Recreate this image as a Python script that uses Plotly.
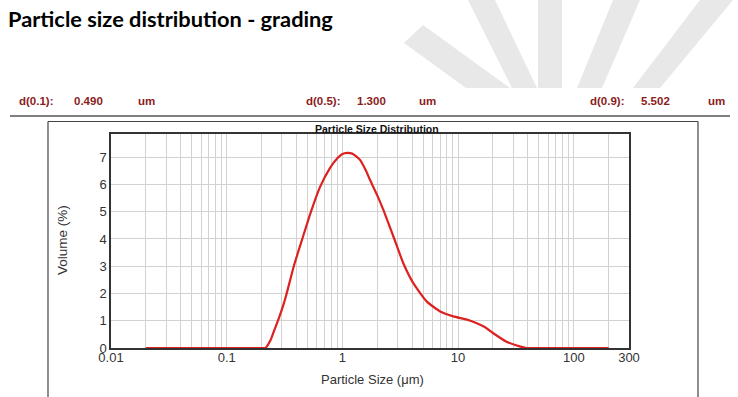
import plotly.graph_objects as go

# ---------------- data ----------------
sizes_um = [0.02, 0.05, 0.1, 0.15, 0.2, 0.216, 0.24, 0.255, 0.28, 0.31, 0.33, 0.38, 0.45,
            0.53, 0.64, 0.78, 0.9, 1.0, 1.1, 1.2, 1.3, 1.42, 1.6, 1.73, 2.0, 2.26, 2.76,
            3.36, 4.1, 5.35, 7.0, 9.1, 11.9, 14.5, 17.0, 20.0, 26.0, 34.0, 39.0, 60.0,
            100.0, 200.0]
volume_pct = [0, 0, 0, 0, 0, 0, 0.3, 0.6, 1.05, 1.6, 2.0, 3.0, 4.0,
              4.95, 5.9, 6.6, 6.95, 7.12, 7.16, 7.14, 7.05, 6.9, 6.5, 6.17, 5.6, 5.07, 4.09,
              3.11, 2.38, 1.71, 1.34, 1.16, 1.04, 0.91, 0.77, 0.55, 0.24, 0.06, 0, 0,
              0, 0]

x_tick_vals = [0.01, 0.1, 1, 10, 100, 300]
x_tick_text = ["0.01", "0.1", "1", "10", "100", "300"]
x_minor_grid = [m * d for d in [0.01, 0.1, 1, 10] for m in range(2, 10)] + [200]
y_tick_vals = [0, 1, 2, 3, 4, 5, 6, 7]

d_labels = ["d(0.1):", "d(0.5):", "d(0.9):"]
d_values = ["0.490", "1.300", "5.502"]
d_unit = "um"

# ---------------- geometry ----------------
W, H = 738, 397
ML, MR, MT, MB = 111, 109, 134, 49
PW = W - ML - MR
PH = H - MT - MB


def px(x):
    return (x - ML) / PW


def py(y):
    return (H - MB - y) / PH


fig = go.Figure()
fig.add_trace(go.Scatter(
    x=sizes_um, y=volume_pct, mode="lines",
    line=dict(color="#dd2020", width=2.2, shape="spline", smoothing=0.5),
    hoverinfo="skip", showlegend=False,
))

axis_font = dict(family="Liberation Sans, Arial, sans-serif", size=13, color="#333333")

fig.update_xaxes(
    type="log", range=[-2, 2.4771],
    tickmode="array", tickvals=x_tick_vals, ticktext=x_tick_text,
    showgrid=True, gridcolor="#d2d2d2", gridwidth=1,
    minor=dict(tickmode="array", tickvals=x_minor_grid, showgrid=True,
               gridcolor="#d2d2d2", gridwidth=1, ticks=""),
    showline=True, linecolor="#333333", linewidth=1.5, mirror=True,
    ticks="", tickfont=axis_font, zeroline=False, fixedrange=True,
    ticklabelstandoff=-3,
)
fig.update_yaxes(
    range=[0, 7.85], tickmode="array", tickvals=y_tick_vals,
    showgrid=True, gridcolor="#d2d2d2", gridwidth=1,
    showline=True, linecolor="#333333", linewidth=1.5, mirror=True,
    ticks="", tickfont=axis_font, zeroline=False, fixedrange=True,
)

ann = []
# axis titles
ann.append(dict(x=px(372), y=py(379), xref="paper", yref="paper",
                xanchor="center", yanchor="middle",
                text="Particle Size (μm)", showarrow=False,
                font=dict(family="Liberation Sans, Arial", size=13, color="#333333")))
ann.append(dict(x=px(62), y=py(240), xref="paper", yref="paper",
                xanchor="center", yanchor="middle",
                text="Volume (%)", showarrow=False, textangle=-90,
                font=dict(family="Liberation Sans, Arial", size=13.5, color="#333333")))
# chart inner title
ann.append(dict(x=px(377), y=py(128.5), xref="paper", yref="paper",
                xanchor="center", yanchor="middle",
                text="<b>Particle Size Distribution</b>", showarrow=False,
                font=dict(family="Liberation Sans Narrow, Arial Narrow, Liberation Sans, Arial",
                          size=10.5, color="#111111")))

# d values row
d_positions = [(18, 73, 137), (305, 356, 418), (589, 640, 707)]
for lab, val, (xl, xv, xu) in zip(d_labels, d_values, d_positions):
    for txt, xx in ((lab, xl), (val, xv), (d_unit, xu)):
        ann.append(dict(x=px(xx), y=py(101), xref="paper", yref="paper",
                        xanchor="left", yanchor="middle", text="<b>" + txt + "</b>",
                        showarrow=False, borderpad=0,
                        font=dict(family="Liberation Sans, Arial", size=11.5, color="#8b1c1c")))

fig.update_layout(annotations=ann)

# ---------------- decorations ----------------
shapes = []
wm_color = "#e8e8e8"
stripes = [
    [(404, 43), (423, 25), (510, 88), (466, 88)],
    [(468, 0), (495, 0), (537, 88), (512, 88)],
    [(538, 0), (562, 0), (562, 88), (538, 88)],
    [(613, 0), (640, 0), (602, 88), (577, 88)],
    [(700, 0), (733, 0), (660, 88), (633, 88)],
]
for poly in stripes:
    path = "M " + " L ".join(f"{px(a):.5f},{py(b):.5f}" for a, b in poly) + " Z"
    shapes.append(dict(type="path", path=path, xref="paper", yref="paper",
                       fillcolor=wm_color, line=dict(width=0), layer="below"))

# separator line and outer frame
shapes.append(dict(type="line", xref="paper", yref="paper",
                   x0=px(10), x1=px(730), y0=py(116), y1=py(116),
                   line=dict(color="#555555", width=1.5)))
frame = [((48, 121.5), (698, 121.5)), ((48, 121.5), (48, 397)), ((698, 121.5), (698, 397))]
for (a, b), (c, d) in frame:
    shapes.append(dict(type="line", xref="paper", yref="paper",
                       x0=px(a), y0=py(b), x1=px(c), y1=py(d),
                       line=dict(color="#444444", width=1.2)))

fig.update_layout(
    shapes=shapes,
    width=W, height=H,
    margin=dict(l=ML, r=MR, t=MT, b=MB, pad=0),
    paper_bgcolor="white", plot_bgcolor="white",
    title=dict(text="<b>Particle size distribution - grading</b>",
               x=8 / W, xanchor="left", xref="container",
               y=1 - 19 / H, yanchor="middle", yref="container",
               font=dict(family="Lato, Liberation Sans, Arial", size=21.8, color="#000000")),
    showlegend=False,
)

fig.write_html("out.html", config={"displayModeBar": False},
               post_script="document.body.style.margin='0px';document.body.style.padding='0px';")
